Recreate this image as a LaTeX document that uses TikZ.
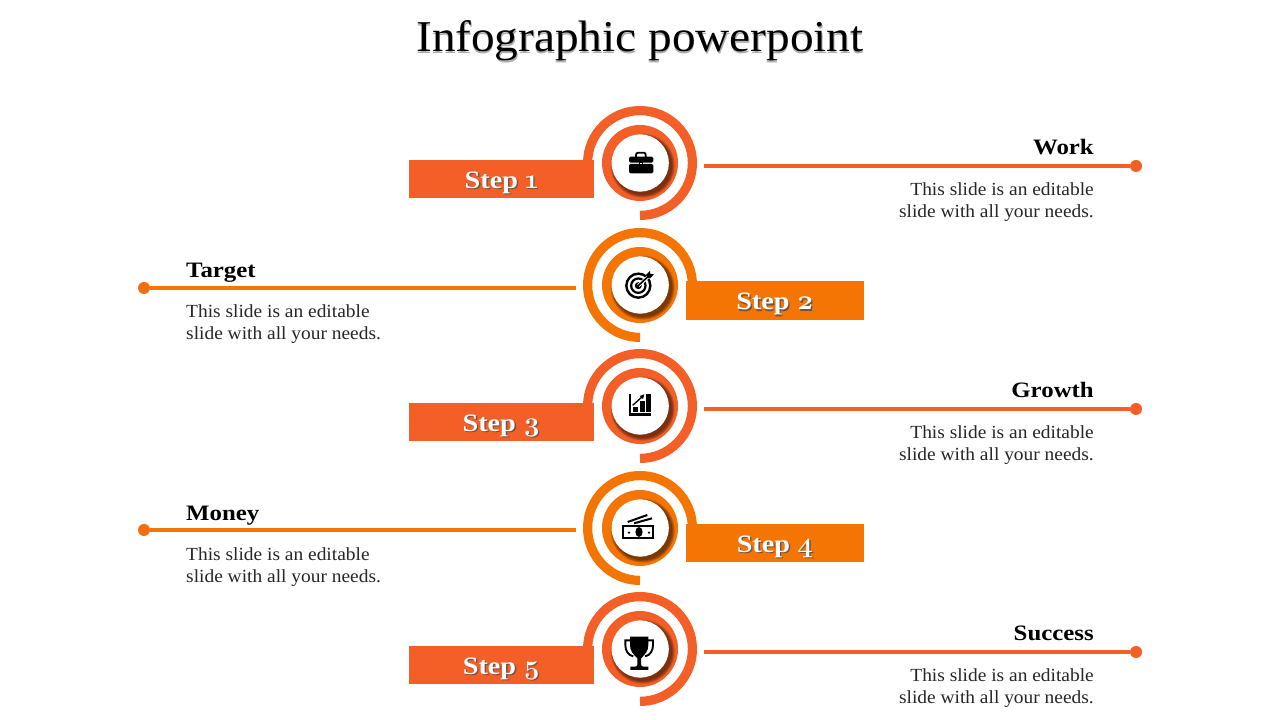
\documentclass[tikz,border=0pt]{standalone}
\usepackage{fontspec}
\setmainfont{Liberation Serif}
\newfontfamily\bodyfont[FakeStretch=1.05]{Liberation Serif}
\newfontfamily\headfont[FakeStretch=1.13]{Liberation Serif}
\newfontfamily\titlefont[FakeStretch=1.074]{Liberation Serif}
\newfontfamily\numfont[Numbers=OldStyle,Scale=1.1]{Latin Modern Roman}
\definecolor{redor}{HTML}{F35F26}
\definecolor{oran}{HTML}{F47404}
\definecolor{shadowbrown}{HTML}{3A1A08}
\newcommand{\softtext}[2]{\leavevmode\rlap{\kern.4pt\raisebox{-1.6pt}{\color{black!32}#2}}{\color{#1}#2}}
\newcommand{\steptext}[1]{\raisebox{-1.5pt}{\leavevmode\rlap{\kern1.3pt\raisebox{-1.5pt}{\color{shadowbrown!75}#1}}{\color{white}#1}}}
\newcommand{\ringR}[2]{%
  \draw[#2,line width=9.2pt] (640,#1-52.4) arc (-90:180:52.4) -- ++(0,-12);
  \discs{#1}{#2}}
\newcommand{\ringL}[2]{%
  \draw[#2,line width=9.2pt] (640,#1-52.4) arc (270:0:52.4) -- ++(0,-12);
  \discs{#1}{#2}}
\newcommand{\discs}[2]{%
  \fill[#2] (640,#1) circle (38pt);
  \foreach \r in {32,31.4,30.8,30.2,29.6,29} {\fill[shadowbrown,opacity=.16] (642.7,#1-2.7) circle (\r pt);}
  \fill[white] (640.2,#1) circle (28.6pt);}
\tikzset{
  x=1pt,y=1pt,
  barbox/.style={inner sep=0pt,minimum height=38.5pt,text depth=0pt,font=\headfont\bfseries\fontsize{25}{25}\selectfont},
  dotnode/.style={circle,inner sep=0pt,minimum size=12pt,fill=#1},
  headR/.style={anchor=base east,inner sep=0pt,font=\headfont\bfseries\fontsize{22}{22}\selectfont},
  headL/.style={anchor=base west,inner sep=0pt,font=\headfont\bfseries\fontsize{22}{22}\selectfont},
  bodyR/.style={anchor=base east,inner sep=0pt,align=right,font=\bodyfont\fontsize{18.5}{22}\selectfont,text=black!85},
  bodyL/.style={anchor=base west,inner sep=0pt,align=left,font=\bodyfont\fontsize{18.5}{22}\selectfont,text=black!85},
  linkline/.style={line width=3.8pt,#1},
  icon/.style={shift={(#1)},x=0.33333pt,y=-0.33333pt},
}
\begin{document}
\begin{tikzpicture}
\useasboundingbox (0,0) rectangle (1280,720);
\fill[white] (0,0) rectangle (1280,720);

\node[anchor=base,inner sep=0pt,font=\titlefont\fontsize{44}{44}\selectfont] (title) at (640,668) {\softtext{black}{Infographic powerpoint}};

% spirals
\ringR{557}{redor}
\ringL{435}{oran}
\ringR{314}{redor}
\ringL{192}{oran}
\ringR{71}{redor}

% step bars
\node[barbox,fill=redor,minimum width=185pt] (s1) at (501.5,541) {\steptext{Step {\numfont 1}}};
\node[barbox,fill=oran,minimum width=178pt] (s2) at (775,419.5) {\steptext{Step {\numfont 2}}};
\node[barbox,fill=redor,minimum width=185pt] (s3) at (501.5,298) {\steptext{Step {\numfont 3}}};
\node[barbox,fill=oran,minimum width=178pt] (s4) at (775,177) {\steptext{Step {\numfont 4}}};
\node[barbox,fill=redor,minimum width=185pt] (s5) at (501.5,55) {\steptext{Step {\numfont 5}}};

% connectors
\coordinate (a1) at (704,554);
\coordinate (a2) at (576,432);
\coordinate (a3) at (704,311);
\coordinate (a4) at (576,190);
\coordinate (a5) at (704,68);
\node[dotnode=redor] (d1) at (1136,554) {};
\node[dotnode=oran!70!redor] (d2) at (144,432) {};
\node[dotnode=redor] (d3) at (1136,311) {};
\node[dotnode=oran!70!redor] (d4) at (144,190) {};
\node[dotnode=redor] (d5) at (1136,68) {};
\draw[linkline=redor] (a1) -- (d1);
\draw[linkline=oran] (a2) -- (d2);
\draw[linkline=redor] (a3) -- (d3);
\draw[linkline=oran] (a4) -- (d4);
\draw[linkline=redor] (a5) -- (d5);

% labels
\node[headR] (h1) at (1094,565) {Work};
\node[bodyR] (b1) at (1094,502) {This slide is an editable\\slide with all your needs.};
\node[headL] (h2) at (186,442) {Target};
\node[bodyL] (b2) at (186,380) {This slide is an editable\\slide with all your needs.};
\node[headR] (h3) at (1094,322) {Growth};
\node[bodyR] (b3) at (1094,259) {This slide is an editable\\slide with all your needs.};
\node[headL] (h4) at (186,199) {Money};
\node[bodyL] (b4) at (186,137) {This slide is an editable\\slide with all your needs.};
\node[headR] (h5) at (1094,79) {Success};
\node[bodyR] (b5) at (1094,16) {This slide is an editable\\slide with all your needs.};

% briefcase (zoom coordinates)
\begin{scope}[icon={400,620}]
  \draw[black,line width=1.8pt] (708,172) -- (708,165) to[out=90,in=180] (714,158) -- (732,158) to[out=0,in=90] (737,165) -- (737,172);
  \fill[black,rounded corners=1.5pt] (687,170) rectangle (760,188);
  \fill[black,rounded corners=1.5pt] (687,192) rectangle (760,220);
  \fill[black] (716,186) rectangle (728,195);
  \fill[white] (719,188) rectangle (725,193);
\end{scope}

% target
\begin{scope}[icon={570,500}]
  \draw[black,line width=2.4pt] (205,197) circle (12pt);
  \draw[black,line width=2.2pt] (205,197) circle (7.2pt);
  \fill[black] (205,197) circle (3.5pt);
  \draw[white,line width=3.4pt] (205,197) -- (240,165);
  \draw[black,line width=1.6pt] (205,197) -- (238,166);
  \fill[black] (228,165) -- (240,153) -- (241,162) -- (252,163) -- (240,175) -- (232,172) -- cycle;
\end{scope}

% chart
\begin{scope}[icon={590,350}]
  \fill[black] (118,73) rectangle (123,130);
  \fill[black] (118,130) rectangle (183,138);
  \fill[black] (129,112) rectangle (143,127);
  \fill[black] (149,92) rectangle (164,127);
  \fill[black] (169,72) rectangle (184,127);
  \draw[black,line width=1.3pt] (128,106) -- (157,80);
  \fill[black] (149,78) -- (163,73) -- (159,87) -- cycle;
\end{scope}

% money
\begin{scope}[icon={590,225}]
  \draw[black,line width=2.2pt] (98,93) rectangle (189,129);
  \fill[black] (147,111) ellipse (3.6pt and 5pt);
  \fill[black] (117,113) circle (1.3pt);
  \fill[black] (177,113) circle (1.3pt);
  \draw[black,line width=2pt] (113,81) -- (172,60);
  \draw[black,line width=2pt] (132,85) -- (186,70);
\end{scope}

% trophy
\begin{scope}[icon={590,105}]
  \fill[black] (120,65) -- (175,65) -- (175,90) to[out=-90,in=45] (153,130) -- (153,150) to[out=-90,in=180] (164,155) -- (175,155) -- (175,165) -- (121,165) -- (121,155) -- (132,155) to[out=0,in=-90] (142,150) -- (142,130) to[out=135,in=-90] (120,90) -- cycle;
  \draw[black,line width=1.9pt] (122,76) -- (106,76) -- (106,90) to[out=-90,in=170] (130,124);
  \draw[black,line width=1.9pt] (173,76) -- (189,76) -- (189,90) to[out=-90,in=10] (165,124);
\end{scope}
\end{tikzpicture}
\end{document}
